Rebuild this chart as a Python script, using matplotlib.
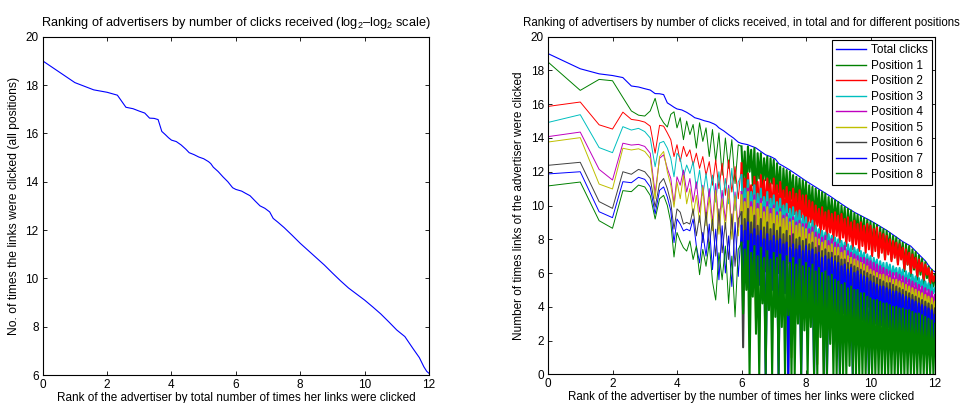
import numpy as np
import matplotlib
matplotlib.use("Agg")
import matplotlib.pyplot as plt

plt.rcParams['font.family'] = ['Liberation Sans', 'DejaVu Sans']
plt.rcParams['mathtext.fontset'] = 'custom'
plt.rcParams['mathtext.rm'] = 'Liberation Sans'
plt.rcParams['mathtext.it'] = 'Liberation Sans'
plt.rcParams['font.size'] = 8

# total clicks, log2(rank) vs log2(clicks)
total_x = [0, 1, 1.585, 2, 2.32, 2.585, 2.807, 3, 3.17, 3.32, 3.46, 3.585, 3.7, 3.807, 3.907, 4.0,
           4.15, 4.3, 4.45, 4.55, 4.7, 4.85, 5.0, 5.15, 5.22, 5.3, 5.45, 5.6, 5.75, 5.9, 6.0,
           6.18, 6.3, 6.44, 6.6, 6.75, 6.9, 7.05, 7.16, 7.3, 7.5, 7.75, 8.0, 8.25, 8.5, 8.75,
           9.0, 9.25, 9.5, 9.75, 10.0, 10.25, 10.5, 10.75, 11.0, 11.25, 11.5, 11.7, 11.84, 11.93, 12.0]
total_y = [19.0, 18.1, 17.8, 17.7, 17.58, 17.08, 17.02, 16.92, 16.84, 16.63, 16.62, 16.57, 16.08, 15.95, 15.82, 15.72,
           15.66, 15.52, 15.34, 15.2, 15.12, 15.02, 14.95, 14.83, 14.75, 14.6, 14.42, 14.2, 14.0, 13.75, 13.68,
           13.61, 13.52, 13.42, 13.2, 13.0, 12.9, 12.75, 12.48, 12.33, 12.1, 11.78, 11.45, 11.15, 10.85, 10.55,
           10.22, 9.9, 9.6, 9.35, 9.1, 8.82, 8.53, 8.2, 7.86, 7.59, 7.1, 6.72, 6.34, 6.15, 6.07]

# per position series: ranks 1-16, then x = 4.1..5.9 (0.1), then x = 6.0..12.0 (0.05)
ranks = np.arange(1, 17)
pos_x = np.concatenate([np.log2(ranks), np.arange(41, 60) / 10, np.arange(120, 241) / 20])

pos1 = [18.5, 16.82, 17.47, 17.39, 16.4, 15.6, 15.35, 15.3, 15.6, 16.35, 15.3, 14.9, 14.65, 15.4, 15.55, 14.6,
        15.2, 13.9, 15.0, 14.2, 14.8, 13.4, 14.9, 13.8, 14.6, 12.9, 14.5, 12.6, 14.3, 11.8, 14.0, 12.2, 13.9, 11.3, 13.6,
        13.5, 11.4, 13.2, 10.6, 13.5, 12.0, 13.3, 11.2, 13.4, 10.2, 13.1, 11.6, 13.1, 10.9, 12.8, 11.5, 12.9, 10.4, 12.8, 11.3,
        12.7, 10.1, 12.5, 10.8, 12.3, 9.6, 12.2, 10.5, 12.1, 9.9, 12.0, 10.4, 11.8, 9.5, 11.7, 10.2, 11.6, 9.8, 11.5, 10.0,
        11.4, 9.2, 11.2, 9.6, 11.1, 8.8, 11.0, 9.4, 10.9, 8.9, 10.8, 9.3, 10.7, 8.6, 10.5, 9.1, 10.4, 8.7, 10.3, 9.0,
        10.2, 8.2, 10.0, 8.7, 9.9, 8.0, 9.8, 8.5, 9.7, 7.8, 9.55, 8.3, 9.45, 7.9, 9.35, 8.2, 9.25, 7.7, 9.15, 8.0,
        9.05, 7.2, 8.95, 7.6, 8.85, 7.0, 8.7, 7.5, 8.6, 6.9, 8.5, 7.3, 8.35, 6.8, 8.2, 7.1, 8.1, 6.6, 7.95, 6.9,
        7.8, 6.1, 7.7, 6.5, 7.6, 5.8, 7.4, 6.2, 7.25, 5.6, 7.05, 5.9, 6.85, 5.3, 6.65, 5.7, 6.4, 5.0, 6.2, 5.2,
        5.9]
pos2 = [15.87, 16.13, 14.78, 14.53, 15.53, 15.1, 15.04, 14.94, 14.7, 13.1, 14.75, 14.7, 14.3, 13.9, 12.9, 13.6,
        12.6, 13.5, 12.9, 13.3, 12.4, 13.1, 12.2, 12.9, 11.8, 12.6, 11.2, 12.7, 11.0, 12.5, 10.6, 12.7, 10.8, 12.3, 10.4,
        12.5, 10.2, 11.6, 9.6, 11.9, 10.4, 11.2, 9.8, 11.7, 10.0, 11.4, 9.5, 11.8, 10.3, 11.5, 9.7, 11.6, 10.1, 11.3, 9.4,
        11.6, 9.8, 11.2, 9.4, 11.4, 10.0, 10.9, 9.2, 11.1, 9.6, 10.8, 9.0, 11.0, 9.5, 10.7, 8.9, 10.9, 9.3, 10.6, 8.8,
        10.6, 8.6, 10.3, 9.0, 10.2, 8.4, 10.0, 8.8, 9.8, 8.2, 9.9, 8.6, 9.6, 8.0, 9.7, 8.4, 9.5, 7.9, 9.6, 8.2,
        9.4, 7.8, 9.5, 8.1, 9.2, 7.6, 9.3, 7.9, 9.0, 7.4, 9.1, 7.7, 8.9, 7.3, 9.0, 7.6, 8.8, 7.2, 8.9, 7.4,
        8.8, 7.0, 8.6, 7.3, 8.7, 6.9, 8.4, 7.2, 8.3, 6.8, 8.2, 7.1, 8.0, 6.7, 7.9, 6.9, 7.8, 6.5, 7.7, 6.8,
        7.5, 6.2, 7.4, 6.5, 7.2, 6.0, 7.1, 6.3, 6.9, 5.8, 6.8, 6.1, 6.6, 5.6, 6.5, 5.9, 6.3, 5.4, 6.1, 5.5,
        5.8]
pos3 = [14.92, 15.38, 13.43, 13.13, 14.67, 14.47, 14.57, 14.38, 14.0, 12.3, 13.7, 13.8, 13.4, 12.8, 11.7, 13.1,
        12.8, 11.7, 12.4, 11.9, 12.6, 11.0, 12.1, 10.6, 11.9, 10.4, 11.8, 10.2, 12.0, 9.9, 11.6, 10.1, 12.2, 9.7, 11.4,
        11.8, 9.4, 11.0, 9.8, 11.5, 9.1, 10.8, 9.6, 11.2, 9.0, 10.7, 9.5, 11.0, 8.9, 10.5, 9.3, 10.8, 8.8, 10.4, 9.2,
        10.6, 8.7, 10.2, 9.0, 10.4, 8.5, 10.0, 8.8, 10.1, 8.3, 9.8, 8.6, 9.9, 8.2, 9.6, 8.5, 9.7, 8.0, 9.4, 8.3,
        9.3, 7.8, 9.0, 8.1, 9.1, 7.6, 8.8, 7.9, 8.6, 7.4, 8.5, 7.7, 8.4, 7.3, 8.3, 7.6, 8.2, 7.1, 8.1, 7.4,
        8.0, 6.9, 7.9, 7.2, 7.8, 6.7, 7.7, 7.0, 7.6, 6.6, 7.5, 6.9, 7.4, 6.4, 7.3, 6.7, 7.2, 6.3, 7.1, 6.5,
        7.0, 6.0, 6.9, 6.3, 6.8, 5.8, 6.7, 6.1, 6.6, 5.7, 6.6, 6.0, 6.5, 5.6, 6.4, 5.9, 6.3, 5.5, 6.3, 5.7,
        6.2, 5.2, 6.1, 5.5, 6.0, 5.0, 5.9, 5.3, 5.8, 4.9, 5.7, 5.2, 5.6, 4.8, 5.5, 5.0, 5.4, 4.6, 5.3, 4.8,
        5.1]
pos4 = [14.08, 14.35, 12.14, 11.51, 13.69, 13.58, 13.62, 13.5, 13.1, 10.72, 12.8, 13.0, 12.2, 11.6, 10.1, 11.7,
        11.2, 12.1, 10.8, 11.6, 10.2, 11.4, 9.6, 11.2, 9.3, 11.0, 9.0, 11.3, 8.8, 10.9, 9.1, 11.2, 8.6, 10.8, 8.7,
        10.8, 8.4, 10.4, 8.9, 11.0, 8.2, 10.2, 8.7, 10.6, 8.0, 10.1, 8.5, 10.4, 7.9, 9.9, 8.3, 10.2, 7.7, 9.8, 8.1,
        10.0, 7.6, 9.6, 8.0, 9.8, 7.4, 9.4, 7.8, 9.5, 7.2, 9.2, 7.6, 9.3, 7.0, 9.0, 7.4, 9.1, 6.9, 8.9, 7.2,
        8.9, 6.8, 8.6, 7.1, 8.7, 6.6, 8.4, 6.9, 8.3, 6.4, 8.1, 6.7, 8.2, 6.3, 7.9, 6.6, 8.0, 6.2, 7.8, 6.5,
        7.7, 6.0, 7.5, 6.3, 7.6, 5.8, 7.3, 6.1, 7.2, 5.7, 7.1, 6.0, 7.0, 5.6, 6.9, 5.8, 6.9, 5.4, 6.8, 5.7,
        6.7, 5.2, 6.6, 5.5, 6.5, 5.0, 6.4, 5.3, 6.3, 4.9, 6.2, 5.2, 6.1, 4.8, 6.0, 5.0, 6.0, 4.7, 5.9, 4.9,
        5.8, 4.4, 5.7, 4.7, 5.6, 4.3, 5.5, 4.6, 5.4, 4.2, 5.3, 4.5, 5.2, 4.0, 5.1, 4.3, 5.0, 3.9, 4.9, 4.1,
        4.7]
pos5 = [13.76, 14.02, 11.27, 10.98, 13.39, 13.29, 13.36, 13.2, 12.8, 10.4, 12.9, 13.2, 12.0, 11.2, 9.9, 11.4,
        10.4, 11.8, 10.1, 11.0, 9.4, 10.6, 9.0, 11.1, 8.8, 10.5, 8.5, 10.9, 8.3, 10.4, 8.6, 11.0, 8.0, 10.6, 8.2,
        10.6, 7.8, 10.2, 8.3, 10.8, 7.5, 9.9, 8.1, 10.3, 3.2, 9.8, 7.9, 10.1, 7.3, 9.6, 7.7, 9.9, 7.1, 9.5, 7.6,
        9.8, 7.0, 9.4, 7.5, 9.6, 6.8, 9.2, 7.3, 9.3, 6.6, 9.0, 1.0, 9.1, 6.5, 8.8, 6.9, 8.9, 6.3, 8.7, 6.7,
        8.6, 6.2, 8.3, 6.6, 8.4, 5.9, 8.1, 0.6, 8.0, 5.8, 7.8, 6.1, 7.9, 5.6, 7.6, 6.0, 7.7, 5.4, 7.5, 5.8,
        7.5, 5.2, 7.2, 5.6, 7.3, 5.0, 7.0, 5.4, 6.9, 4.9, 6.8, 5.3, 6.7, 4.8, 6.6, 5.1, 6.5, 4.7, 6.4, 5.0,
        6.2, 4.6, 6.1, 4.9, 6.0, 4.5, 5.9, 4.8, 5.9, 4.4, 5.8, 4.7, 5.7, 4.3, 5.6, 4.6, 5.6, 4.2, 5.5, 4.5,
        5.4, 3.9, 5.3, 4.2, 5.2, 3.8, 5.1, 4.1, 5.0, 3.7, 4.9, 4.0, 4.8, 3.6, 4.7, 3.9, 4.6, 3.4, 4.5, 3.6,
        4.3]
pos6 = [12.38, 12.56, 10.23, 9.83, 12.0, 11.85, 12.14, 12.0, 11.6, 9.9, 11.3, 11.6, 11.0, 10.2, 8.6, 9.8,
        9.6, 8.9, 9.0, 8.9, 9.8, 8.2, 9.4, 7.8, 9.6, 7.5, 9.2, 7.0, 9.8, 7.2, 9.0, 6.8, 9.5, 6.4, 9.2,
        9.6, 1.6, 9.2, 6.8, 9.8, 6.2, 9.0, 6.6, 9.4, 5.8, 8.8, 6.4, 9.2, 5.6, 8.7, 6.1, 9.0, 5.4, 8.6, 5.9,
        8.9, 5.6, 8.5, 6.0, 8.7, 5.2, 8.3, 5.8, 8.5, 0.0, 8.2, 5.5, 8.3, 5.0, 8.0, 5.4, 8.1, 4.8, 7.9, 5.2,
        8.0, 5.0, 7.7, 5.4, 7.8, 4.7, 7.5, 5.2, 7.6, 4.6, 7.3, 0.0, 7.4, 4.5, 7.2, 4.9, 7.2, 4.4, 7.0, 4.7,
        7.0, 4.4, 6.8, 4.7, 6.8, 4.2, 6.6, 4.5, 6.5, 4.1, 6.4, 4.4, 6.3, 3.9, 6.2, 4.2, 6.1, 3.8, 6.0, 4.0,
        5.9, 3.7, 5.8, 4.0, 5.7, 3.6, 5.6, 3.9, 5.5, 3.5, 5.4, 3.8, 5.4, 3.4, 5.3, 3.6, 5.2, 3.2, 5.1, 3.5,
        5.0, 3.0, 4.9, 3.3, 4.8, 2.9, 4.7, 3.2, 4.6, 2.8, 4.5, 3.1, 4.4, 2.6, 4.3, 2.9, 4.2, 2.5, 4.1, 2.7,
        3.9]
pos7 = [11.87, 12.0, 9.63, 9.28, 11.41, 11.35, 11.67, 11.55, 11.1, 9.5, 10.9, 11.1, 10.5, 9.7, 7.8, 9.2,
        8.9, 8.5, 8.6, 8.5, 9.2, 7.6, 6.6, 8.4, 7.0, 8.9, 6.2, 8.6, 5.6, 8.8, 6.0, 8.2, 5.2, 9.0, 5.8,
        8.8, 5.2, 8.5, 5.8, 9.0, 4.9, 8.3, 5.5, 8.6, 4.6, 8.2, 5.3, 8.5, 4.4, 8.0, 0.0, 8.3, 4.7, 7.9, 5.0,
        8.2, 4.4, 7.9, 0.0, 8.0, 4.2, 7.7, 4.8, 7.8, 0.0, 7.5, 4.5, 7.7, 4.0, 7.4, 4.4, 7.6, 0.0, 7.3, 4.2,
        7.6, 3.9, 7.3, 4.3, 7.4, 0.0, 7.1, 4.1, 7.2, 3.6, 6.9, 4.0, 7.0, 0.0, 6.8, 3.8, 6.9, 3.4, 6.7, 3.7,
        6.6, 0.0, 6.4, 3.6, 6.5, 3.1, 6.2, 3.5, 6.3, 0.0, 6.0, 3.3, 6.1, 2.9, 5.9, 3.2, 5.8, 2.8, 5.7, 0.0,
        5.5, 2.7, 5.4, 3.0, 5.3, 2.5, 5.2, 2.9, 5.2, 2.4, 5.1, 2.8, 5.0, 2.3, 4.9, 2.6, 4.9, 2.2, 4.8, 2.5,
        4.7, 2.0, 4.6, 2.3, 4.5, 1.8, 4.4, 2.2, 4.3, 1.6, 4.2, 2.0, 4.1, 1.4, 4.0, 1.8, 3.9, 1.2, 3.8, 1.5,
        3.5]
pos8 = [11.16, 11.39, 9.1, 8.65, 10.88, 10.82, 11.21, 11.1, 10.6, 9.2, 10.4, 10.6, 10.0, 9.0, 6.95, 8.4,
        7.9, 7.5, 7.3, 7.9, 6.8, 7.6, 5.9, 7.4, 6.4, 7.8, 5.5, 4.4, 7.2, 5.6, 7.6, 4.2, 7.0, 3.4, 7.4,
        7.8, 3.6, 7.4, 5.0, 7.9, 0.0, 7.2, 4.6, 7.6, 2.4, 7.0, 0.0, 7.5, 4.2, 6.9, 0.0, 7.3, 3.8, 6.8, 0.0,
        7.2, 3.4, 6.9, 0.0, 7.1, 2.8, 6.7, 0.0, 7.0, 3.5, 6.6, 0.0, 6.9, 0.0, 6.5, 3.0, 6.8, 0.0, 6.4, 2.6,
        6.6, 0.0, 6.3, 2.8, 6.5, 0.0, 6.1, 0.0, 6.3, 2.2, 6.0, 0.0, 6.1, 0.0, 5.8, 1.8, 5.9, 0.0, 5.6, 0.0,
        5.5, 0.0, 5.3, 0.0, 5.4, 0.0, 5.1, 0.5, 5.2, 0.0, 5.0, 0.0, 5.0, 0.0, 4.8, 0.0, 4.8, 0.0, 4.6, 0.0,
        4.5, 0.0, 4.4, 0.0, 4.4, 0.0, 4.3, 0.0, 4.2, 0.0, 4.2, 0.0, 4.1, 0.0, 4.0, 0.0, 4.0, 0.0, 3.9, 0.0,
        3.9, 0.0, 3.8, 0.0, 3.8, 0.0, 3.7, 0.0, 3.6, 0.0, 3.6, 0.0, 3.5, 0.0, 3.4, 0.0, 3.3, 0.0, 3.2, 0.0,
        3.0]

positions = [pos1, pos2, pos3, pos4, pos5, pos6, pos7, pos8]
pos_labels = ['Position %d' % i for i in range(1, 9)]
pos_colors = ['#008000', '#ff0000', '#00bfbf', '#bf00bf', '#bfbf00', '#404040', '#0000ff', '#008000']

W, H = 963, 403
fig = plt.figure(figsize=(W / 100, H / 100), dpi=100)
ax1 = fig.add_axes([42.7 / W, (H - 375) / H, (429 - 42.7) / W, (375 - 36.7) / H])
ax2 = fig.add_axes([548 / W, (H - 374.3) / H, (935 - 548) / W, (374.3 - 36.7) / H])


def matlab_style(ax):
    ax.tick_params(direction='in', top=True, right=True, length=3, width=0.6,
                   labelsize=8.5, pad=3)
    for s in ax.spines.values():
        s.set_linewidth(0.8)
    ax.set_xlim(0, 12)
    ax.set_xticks(range(0, 13, 2))


# left
ax1.plot(total_x, total_y, color='#0000ff', lw=0.8)
matlab_style(ax1)
ax1.set_ylim(6, 20)
ax1.set_yticks(range(6, 21, 2))
ax1.set_title('Ranking of advertisers by number of clicks received (log$_2$–log$_2$ scale)',
              fontsize=9.2, pad=8)
ax1.set_xlabel('Rank of the advertiser by total number of times her links were clicked',
               fontsize=8.5, labelpad=0.5)
ax1.set_ylabel('No. of times the links were clicked (all positions)', fontsize=8.7, labelpad=4)

# right
ax2.plot(total_x, total_y, color='#0000ff', lw=0.8, label='Total clicks')
split = 35  # index of x = 6.0, where the ranks get dense
for vals, lab, col in zip(positions, pos_labels, pos_colors):
    ax2.plot(pos_x[:split + 1], vals[:split + 1], color=col, lw=0.7, label=lab)
    ax2.plot(pos_x[split:], vals[split:], color=col, lw=1.5)
matlab_style(ax2)
ax2.set_ylim(0, 20)
ax2.set_yticks(range(0, 21, 2))
ax2.set_title('Ranking of advertisers by number of clicks received, in total and for different positions',
              fontsize=8.3, pad=8)
ax2.set_xlabel('Rank of the advertiser by the number of times her links were clicked',
               fontsize=8.3, labelpad=0.5)
ax2.set_ylabel('Number of times links of the advertiser were clicked', fontsize=8.5, labelpad=4)

leg = ax2.legend(loc='upper right', bbox_to_anchor=(0.9915, 0.99), borderaxespad=0,
                 fancybox=False, edgecolor='k', framealpha=1, fontsize=8.5,
                 handlelength=2.5, handletextpad=0.4, labelspacing=0.3, borderpad=0.35)
leg.get_frame().set_linewidth(0.8)
for h in leg.get_lines():
    h.set_linewidth(1.0)

fig.savefig('out.png', dpi=100)
